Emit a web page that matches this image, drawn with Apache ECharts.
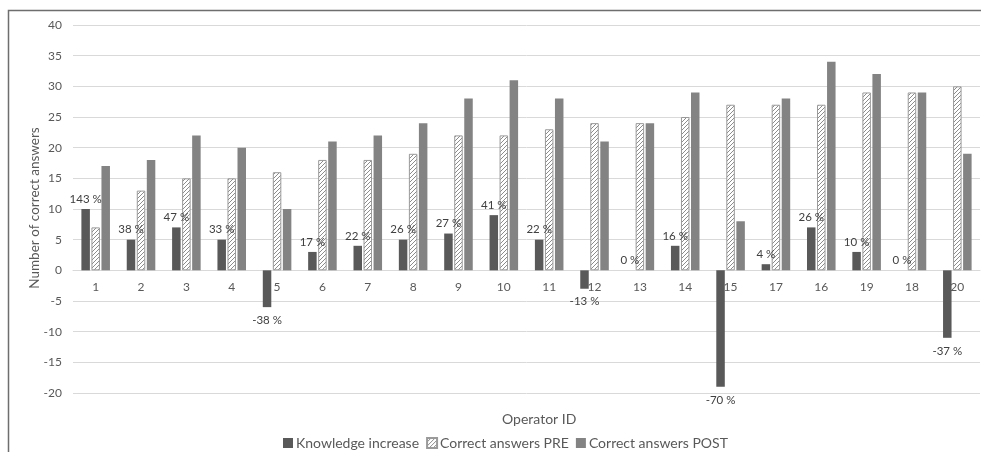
<!DOCTYPE html>
<html>
<head>
<meta charset="utf-8">
<script src="https://cdn.jsdelivr.net/npm/echarts@6/dist/echarts.min.js"></script>
<style>
  html, body { margin: 0; padding: 0; background: #fff; }
  #chart { width: 981px; height: 452px; }
</style>
</head>
<body>
<div id="chart"></div>
<script>
// Operator IDs in the order they appear along the x axis
const operators = ['1','2','3','4','5','6','7','8','9','10','11','12','13','14','15','17','16','19','18','20'];
// Change in the number of correct answers (POST - PRE)
const knowledgeIncrease = [10, 5, 7, 5, -6, 3, 4, 5, 6, 9, 5, -3, 0, 4, -19, 1, 7, 3, 0, -11];
// Correct answers before training
const correctPre = [7, 13, 15, 15, 16, 18, 18, 19, 22, 22, 23, 24, 24, 25, 27, 27, 27, 29, 29, 30];
// Correct answers after training
const correctPost = [17, 18, 22, 20, 10, 21, 22, 24, 28, 31, 28, 21, 24, 29, 8, 28, 34, 32, 29, 19];
// Relative increase labels
const increasePct = ['143 %','38 %','47 %','33 %','-38 %','17 %','22 %','26 %','27 %','41 %','22 %','-13 %','0 %','16 %','-70 %','4 %','26 %','10 %','0 %','-37 %'];
const yTicks = { min: -20, max: 40, step: 5 };

const FONT = 'Lato';
const TEXT = '#595959';

// Diagonal hatch used for the PRE bars
function makeHatch() {
  const c = document.createElement('canvas');
  const s = 4;
  c.width = s; c.height = s;
  const g = c.getContext('2d');
  g.fillStyle = '#ffffff';
  g.fillRect(0, 0, s, s);
  g.strokeStyle = '#8c8c8c';
  g.lineWidth = 1;
  g.beginPath();
  g.moveTo(0, s); g.lineTo(s, 0);
  g.moveTo(-1, 1); g.lineTo(1, -1);
  g.moveTo(s - 1, s + 1); g.lineTo(s + 1, s - 1);
  g.stroke();
  return c;
}
const hatch = makeHatch();

const chart = echarts.init(document.getElementById('chart'), null, { renderer: 'canvas' });

const incData = knowledgeIncrease.map(v => ({
  value: v,
  label: {
    position: v < 0 ? 'bottom' : 'top',
    distance: v < 0 ? 7 : 4
  }
}));

chart.setOption({
  animation: false,
  textStyle: { fontFamily: FONT },
  graphic: [{
    type: 'rect',
    shape: { x: 8.5, y: 10.5, width: 1000, height: 500 },
    style: { fill: 'none', stroke: '#6e6e6e', lineWidth: 1.5 },
    silent: true
  }, {
    type: 'text',
    left: 502,
    top: 412,
    style: { text: 'Operator ID', fontSize: 14, fill: TEXT, fontFamily: FONT },
    silent: true
  }, {
    type: 'text',
    x: 35,
    y: 208,
    rotation: Math.PI / 2,
    style: {
      text: 'Number of correct answers',
      fontSize: 13.5,
      fill: TEXT,
      fontFamily: FONT,
      align: 'center',
      verticalAlign: 'middle'
    },
    silent: true
  }],
  grid: { left: 73, right: 1, top: 25, bottom: 59, containLabel: false, outerBoundsMode: 'none' },
  legend: {
    bottom: 2,
    left: 283,
    padding: 0,
    icon: 'rect',
    itemWidth: 10,
    itemHeight: 10,
    itemGap: 7,
    textStyle: { fontFamily: FONT, fontSize: 14, color: TEXT, padding: [0, 0, 0, -2] },
    data: ['Knowledge increase', 'Correct answers PRE', 'Correct answers POST']
  },
  xAxis: {
    type: 'category',
    data: operators,
    axisLine: { onZero: true, lineStyle: { color: '#d9d9d9', width: 1 } },
    axisTick: { show: false },
    axisLabel: { fontSize: 12, color: TEXT, margin: 11, fontFamily: FONT }
  },
  yAxis: {
    type: 'value',
    min: yTicks.min,
    max: yTicks.max,
    interval: yTicks.step,
    axisLine: { show: false },
    axisTick: { show: false },
    axisLabel: { fontSize: 12, color: TEXT, margin: 11, fontFamily: FONT },
    splitLine: { lineStyle: { color: '#d9d9d9', width: 1 } }
  },
  series: [
    {
      name: 'Knowledge increase',
      type: 'bar',
      data: incData,
      barWidth: 8.5,
      barGap: '18%',
      itemStyle: { color: '#595959' },
      label: {
        show: true,
        fontSize: 11.5,
        color: '#404040',
        fontFamily: FONT,
        formatter: p => increasePct[p.dataIndex]
      }
    },
    {
      name: 'Correct answers PRE',
      type: 'bar',
      data: correctPre,
      barWidth: 8.5,
      barGap: '18%',
      itemStyle: {
        color: { image: hatch, repeat: 'repeat' },
        borderColor: '#9a9a9a',
        borderWidth: 1
      }
    },
    {
      name: 'Correct answers POST',
      type: 'bar',
      data: correctPost,
      barWidth: 8.5,
      barGap: '18%',
      itemStyle: { color: '#838383' }
    }
  ]
});

// Keep the category axis on the zero line of the value axis
const zeroY = chart.convertToPixel({ yAxisIndex: 0 }, 0);
const floorY = chart.convertToPixel({ yAxisIndex: 0 }, yTicks.min);
chart.setOption({ xAxis: { offset: zeroY - floorY } });
</script>
</body>
</html>
